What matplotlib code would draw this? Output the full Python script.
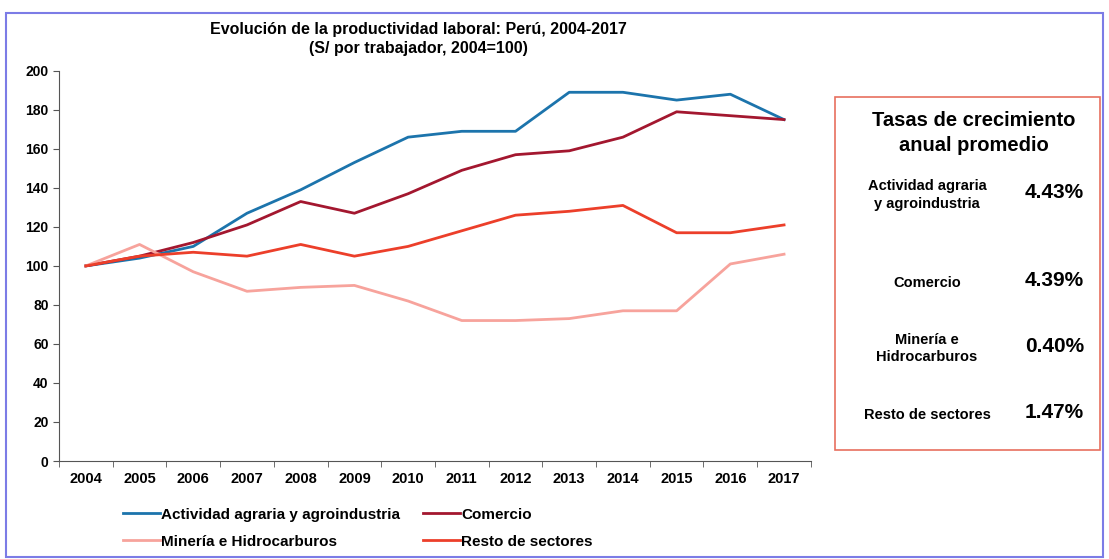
import matplotlib
matplotlib.use("Agg")
import matplotlib.pyplot as plt
from matplotlib.patches import Rectangle

plt.rcParams['font.family'] = ['Liberation Sans', 'DejaVu Sans']
plt.rcParams['font.weight'] = 'bold'

# data (2004=100)
years = ["2004", "2005", "2006", "2007", "2008", "2009", "2010",
         "2011", "2012", "2013", "2014", "2015", "2016", "2017"]
agraria = [100, 104, 110, 127, 139, 153, 166, 169, 169, 189, 189, 185, 188, 175]
comercio = [100, 105, 112, 121, 133, 127, 137, 149, 157, 159, 166, 179, 177, 175]
mineria = [100, 111, 97, 87, 89, 90, 82, 72, 72, 73, 77, 77, 101, 106]
resto = [100, 105, 107, 105, 111, 105, 110, 118, 126, 128, 131, 117, 117, 121]

series_names = ["Actividad agraria y agroindustria", "Comercio",
                "Minería e Hidrocarburos", "Resto de sectores"]
colors = ["#1C74AC", "#A3172F", "#F7A39C", "#EC3F2A"]

box_labels = ["Actividad agraria\ny agroindustria", "Comercio",
              "Minería e\nHidrocarburos", "Resto de sectores"]
box_rates = ["4.43%", "4.39%", "0.40%", "1.47%"]

fig = plt.figure(figsize=(11.09, 5.59), dpi=100)
ax = fig.add_axes([0.0532, 0.1753, 0.678, 0.698])

x = list(range(len(years)))
lines = []
for vals, name, c in zip([agraria, comercio, mineria, resto], series_names, colors):
    ln, = ax.plot(x, vals, color=c, lw=2.0, label=name)
    lines.append(ln)

ax.set_xlim(-0.5, len(years) - 0.5)
ax.set_ylim(0, 200)
ax.set_yticks(range(0, 201, 20))
ax.set_xticks(x)
ax.set_xticklabels(years)
ax.set_xticks([i - 0.5 for i in range(len(years) + 1)], minor=True)
ax.tick_params(axis='x', which='major', length=0, pad=8, labelsize=10.5)
ax.tick_params(axis='x', which='minor', length=4, direction='out', color='#555555')
ax.tick_params(axis='y', length=4, direction='out', color='#555555', labelsize=10)
for s in ['top', 'right']:
    ax.spines[s].set_visible(False)
for s in ['left', 'bottom']:
    ax.spines[s].set_color('#555555')

fig.text(0.377, 0.948, "Evolución de la productividad laboral: Perú, 2004-2017",
         ha='center', va='center', fontsize=11.5)
fig.text(0.377, 0.913, "(S/ por trabajador, 2004=100)",
         ha='center', va='center', fontsize=11.5)

# legend filled row by row: agraria, comercio / mineria, resto
order = [0, 2, 1, 3]
fig.legend([lines[i] for i in order], [series_names[i] for i in order],
           loc='upper left', bbox_to_anchor=(0.1055, 0.103), ncol=2, frameon=False,
           fontsize=11, handlelength=2.4, handletextpad=0.1, columnspacing=1.5,
           labelspacing=0.85, borderaxespad=0)

# growth-rate box on the right
fig.patches.append(Rectangle((0.753, 0.195), 0.239, 0.632, transform=fig.transFigure,
                             fill=False, edgecolor='#E8705F', lw=1.2))
fig.text(0.878, 0.785, "Tasas de crecimiento", ha='center', va='center', fontsize=14.5)
fig.text(0.878, 0.740, "anual promedio", ha='center', va='center', fontsize=14.5)
label_y = [0.651, 0.494, 0.377, 0.258]
for lab, rate, yy in zip(box_labels, box_rates, label_y):
    fig.text(0.836, yy, lab, ha='center', va='center', fontsize=10.5, linespacing=1.3)
    fig.text(0.951, yy + 0.004, rate, ha='center', va='center', fontsize=15)

# outer frame
fig.patches.append(Rectangle((0.005, 0.004), 0.99, 0.973, transform=fig.transFigure,
                             fill=False, edgecolor='#7C7CE6', lw=1.5))

fig.savefig("out.png", dpi=100)
